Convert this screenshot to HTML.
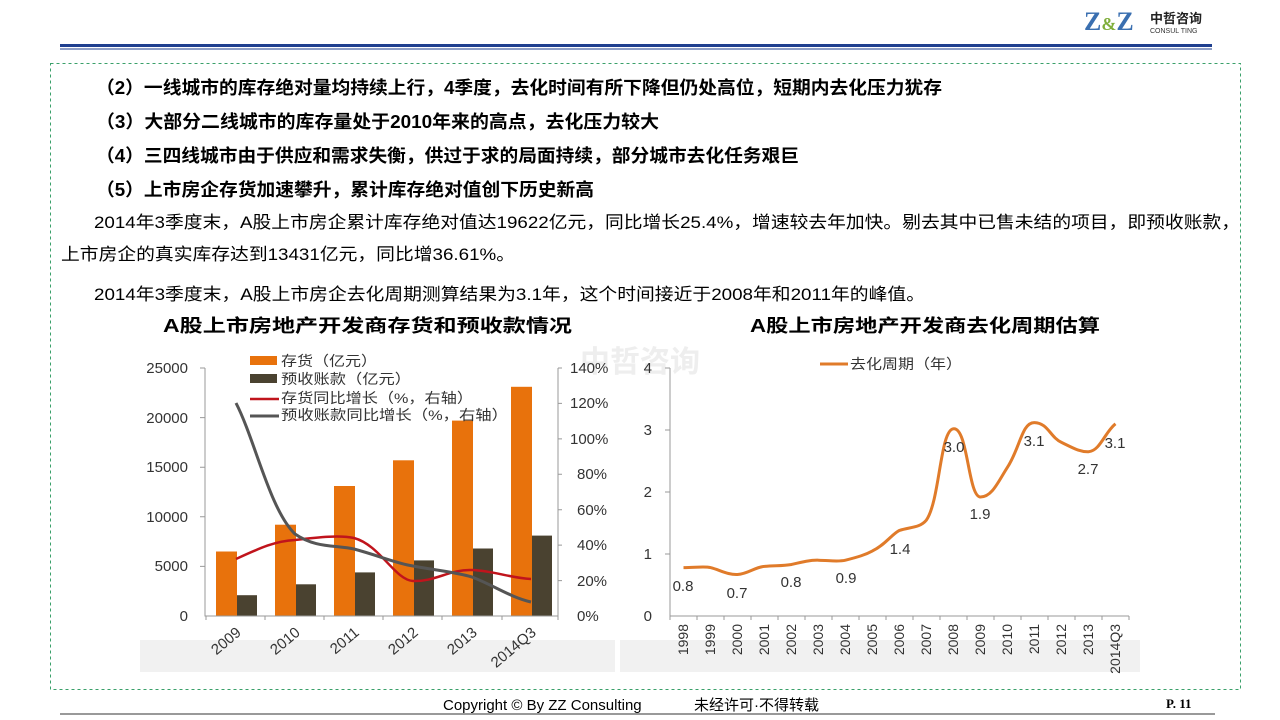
<!DOCTYPE html>
<html><head><meta charset="utf-8"><style>
body{margin:0;width:1280px;height:720px;background:#fff;overflow:hidden;font-family:"Liberation Sans","Noto Sans CJK SC",sans-serif}
svg{position:absolute;left:0;top:0}
</style></head><body>
<svg width="1280" height="720" xmlns="http://www.w3.org/2000/svg" font-family="Liberation Sans, Noto Sans CJK SC, sans-serif">
<!-- header -->
<text x="1084" y="30" font-family="Liberation Serif, serif" font-size="26" font-weight="bold" fill="#3a6fb0">Z<tspan fill="#7fae3a" font-size="18">&amp;</tspan>Z</text>
<text x="1150" y="23" font-size="13" font-weight="bold" fill="#222">中哲咨询</text>
<text x="1150" y="33" font-size="7" fill="#333">CONSUL TING</text>
<rect x="60" y="44" width="1152" height="3" fill="#1f3f8f"/>
<rect x="60" y="48.5" width="1152" height="1" fill="#1f3f8f"/>
<rect x="50.5" y="63.5" width="1190" height="626" fill="none" stroke="#3aa06a" stroke-dasharray="3,3"/>
<!-- text -->
<g font-size="18" font-weight="bold" fill="#000" lengthAdjust="spacingAndGlyphs">
<text x="96" y="94" textLength="846" lengthAdjust="spacingAndGlyphs">（2）一线城市的库存绝对量均持续上行，4季度，去化时间有所下降但仍处高位，短期内去化压力犹存</text>
<text x="96" y="128" textLength="563" lengthAdjust="spacingAndGlyphs">（3）大部分二线城市的库存量处于2010年来的高点，去化压力较大</text>
<text x="96" y="162" textLength="703" lengthAdjust="spacingAndGlyphs">（4）三四线城市由于供应和需求失衡，供过于求的局面持续，部分城市去化任务艰巨</text>
<text x="96" y="196" textLength="498" lengthAdjust="spacingAndGlyphs">（5）上市房企存货加速攀升，累计库存绝对值创下历史新高</text>
</g>
<g font-size="17" fill="#000">
<text x="94" y="228" textLength="1146" lengthAdjust="spacingAndGlyphs">2014年3季度末，A股上市房企累计库存绝对值达19622亿元，同比增长25.4%，增速较去年加快。剔去其中已售未结的项目，即预收账款，</text>
<text x="61" y="260" textLength="454" lengthAdjust="spacingAndGlyphs">上市房企的真实库存达到13431亿元，同比增36.61%。</text>
<text x="94" y="300" textLength="831" lengthAdjust="spacingAndGlyphs">2014年3季度末，A股上市房企去化周期测算结果为3.1年，这个时间接近于2008年和2011年的峰值。</text>
</g>
<!-- chart titles -->
<text x="163" y="332" font-size="18" font-weight="bold" textLength="409" lengthAdjust="spacingAndGlyphs">A股上市房地产开发商存货和预收款情况</text>
<text x="750" y="332" font-size="18" font-weight="bold" textLength="350" lengthAdjust="spacingAndGlyphs">A股上市房地产开发商去化周期估算</text>
<rect x="140" y="640" width="475" height="32" fill="#f1f1f1"/>
<rect x="620" y="640" width="520" height="32" fill="#f1f1f1"/>
<text x="640" y="372" font-size="30" font-weight="bold" fill="#eee" text-anchor="middle">中哲咨询</text>
<!-- left chart -->
<g font-size="15" fill="#333" text-anchor="end">
<text x="188" y="621">0</text><text x="188" y="571">5000</text><text x="188" y="522">10000</text><text x="188" y="472">15000</text><text x="188" y="423">20000</text><text x="188" y="373">25000</text>
</g>
<g font-size="15" fill="#333">
<text x="577" y="621">0%</text><text x="577" y="586">20%</text><text x="577" y="550">40%</text><text x="577" y="515">60%</text><text x="577" y="479">80%</text><text x="570" y="444">100%</text><text x="570" y="408">120%</text><text x="570" y="373">140%</text>
</g>
<g fill="#e8720c">
<rect x="216" y="551.5" width="21" height="64.5"/><rect x="275" y="524.7" width="21" height="91.3"/><rect x="334" y="486" width="21" height="130"/><rect x="393" y="460.3" width="21" height="155.7"/><rect x="452" y="420.6" width="21" height="195.4"/><rect x="511" y="386.8" width="21" height="229.2"/>
</g>
<g fill="#4a4230">
<rect x="237" y="595.2" width="20" height="20.8"/><rect x="296" y="584.3" width="20" height="31.7"/><rect x="355" y="572.4" width="20" height="43.6"/><rect x="414" y="560.4" width="20" height="55.6"/><rect x="473" y="548.5" width="20" height="67.5"/><rect x="532" y="535.6" width="20" height="80.4"/>
</g>
<path d="M205,368V616H558V368" fill="none" stroke="#999"/>
<path d="M206,616v4M265,616v4M324,616v4M383,616v4M442,616v4M502,616v4M558,616v4M200,368h5M200,417.6h5M200,467.2h5M200,516.8h5M200,566.4h5M558,368h4M558,403.4h4M558,438.9h4M558,474.3h4M558,509.7h4M558,545.1h4M558,580.6h4" stroke="#999"/>
<path d="M236,559 C260,548 275,541 295,540 C320,537 340,535 354,538 C380,545 395,580 413,581 C435,582 450,569 472,570 C495,571 510,578 531,579" fill="none" stroke="#c0141c" stroke-width="2.5"/>
<path d="M236,403 C255,440 270,510 295,534 C315,548 335,545 354,549 C380,556 395,563 413,566 C440,571 455,572 472,577 C495,586 510,597 531,602" fill="none" stroke="#555" stroke-width="3"/>
<g font-size="15" fill="#333" text-anchor="end">
<text transform="translate(242,634) rotate(-40)">2009</text>
<text transform="translate(301,634) rotate(-40)">2010</text>
<text transform="translate(360,634) rotate(-40)">2011</text>
<text transform="translate(419,634) rotate(-40)">2012</text>
<text transform="translate(478,634) rotate(-40)">2013</text>
<text transform="translate(537,634) rotate(-40)">2014Q3</text>
</g>
<g font-size="14" fill="#333">
<rect x="250" y="356" width="27" height="9" fill="#e8720c"/><text x="281" y="366" textLength="96" lengthAdjust="spacingAndGlyphs">存货（亿元）</text>
<rect x="250" y="374" width="27" height="9" fill="#4a4230"/><text x="281" y="384" textLength="130" lengthAdjust="spacingAndGlyphs">预收账款（亿元）</text>
<line x1="250" y1="399" x2="279" y2="399" stroke="#c0141c" stroke-width="2.5"/><text x="281" y="403" textLength="192" lengthAdjust="spacingAndGlyphs">存货同比增长（%，右轴）</text>
<line x1="250" y1="416" x2="279" y2="416" stroke="#555" stroke-width="3"/><text x="281" y="420" textLength="227" lengthAdjust="spacingAndGlyphs">预收账款同比增长（%，右轴）</text>
</g>
<!-- right chart -->
<g font-size="15" fill="#333" text-anchor="end">
<text x="652" y="621">0</text><text x="652" y="559">1</text><text x="652" y="497">2</text><text x="652" y="435">3</text><text x="652" y="373">4</text>
</g>
<path d="M670,368V616H1129" fill="none" stroke="#999"/>
<path d="M665,368h5M665,430h5M665,492h5M665,554h5M670,616v4M697,616v4M724,616v4M751,616v4M778,616v4M805,616v4M832,616v4M859,616v4M886,616v4M913,616v4M940,616v4M967,616v4M994,616v4M1021,616v4M1048,616v4M1075,616v4M1102,616v4M1129,616v4" stroke="#999"/>
<path d="M683.5,567.6 C695,567.6 705,566 710.5,567.6 C720,570 728,575 737.5,574.5 C748,574 755,567 764.5,566.4 C775,565.5 783,566 791.5,564.5 C802,562 810,560 818.5,560.2 C830,560.5 838,562 845.5,560.2 C858,557 865,555 872.5,550.9 C885,545 892,534 899.5,530.4 C910,527 920,528 926.5,519.9 C940,500 940,430 953.5,428.8 C968,427 968,497 980.5,497 C992,497 998,482 1007.5,467.2 C1020,448 1022,422 1034.5,422.6 C1048,423 1050,437 1061.5,442.4 C1075,449 1080,452 1088.5,451.7 C1100,451 1105,432 1115.5,423.8" fill="none" stroke="#e07b2a" stroke-width="3"/>
<g font-size="15" fill="#333" text-anchor="middle">
<text x="683" y="591">0.8</text><text x="737" y="598">0.7</text><text x="791" y="587">0.8</text><text x="846" y="583">0.9</text><text x="900" y="554">1.4</text><text x="954" y="452">3.0</text><text x="980" y="519">1.9</text><text x="1034" y="446">3.1</text><text x="1088" y="474">2.7</text><text x="1115" y="448">3.1</text>
</g>
<g font-size="14" fill="#333" text-anchor="end">
<text transform="translate(688,624) rotate(-90)">1998</text><text transform="translate(715,624) rotate(-90)">1999</text><text transform="translate(742,624) rotate(-90)">2000</text><text transform="translate(769,624) rotate(-90)">2001</text><text transform="translate(796,624) rotate(-90)">2002</text><text transform="translate(823,624) rotate(-90)">2003</text><text transform="translate(850,624) rotate(-90)">2004</text><text transform="translate(877,624) rotate(-90)">2005</text><text transform="translate(904,624) rotate(-90)">2006</text><text transform="translate(931,624) rotate(-90)">2007</text><text transform="translate(958,624) rotate(-90)">2008</text><text transform="translate(985,624) rotate(-90)">2009</text><text transform="translate(1012,624) rotate(-90)">2010</text><text transform="translate(1039,624) rotate(-90)">2011</text><text transform="translate(1066,624) rotate(-90)">2012</text><text transform="translate(1093,624) rotate(-90)">2013</text><text transform="translate(1120,624) rotate(-90)">2014Q3</text>
</g>
<line x1="820" y1="364" x2="848" y2="364" stroke="#e07b2a" stroke-width="3"/>
<text x="850" y="369" font-size="14" fill="#333" textLength="112" lengthAdjust="spacingAndGlyphs">去化周期（年）</text>
<!-- footer -->
<text x="443" y="710" font-size="15" fill="#000">Copyright © By  ZZ Consulting</text>
<text x="694" y="710" font-size="15" fill="#000">未经许可·不得转载</text>
<text x="1166" y="708" font-size="13" font-weight="bold" font-family="Liberation Serif, serif">P. 11</text>
<line x1="60" y1="714" x2="1215" y2="714" stroke="#333"/>
</svg>
</body></html>
